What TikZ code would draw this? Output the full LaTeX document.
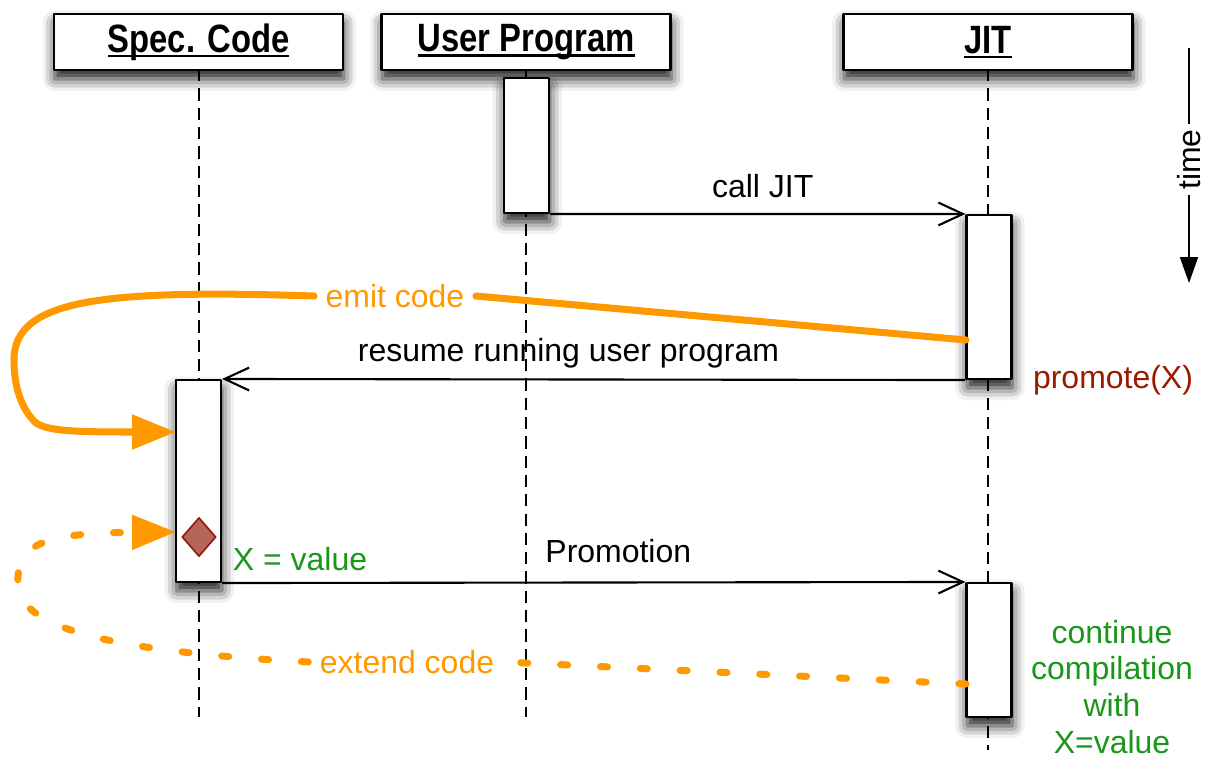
\documentclass[tikz,border=0pt]{standalone}
\usepackage{fontspec}
\setmainfont{Liberation Sans}
\newfontfamily\hdfont[FakeStretch=0.83]{Liberation Sans}
\usetikzlibrary{arrows.meta,shapes.geometric,shadows.blur}
\definecolor{emit}{HTML}{FF9900}
\definecolor{promo}{HTML}{9A1A00}
\definecolor{valgreen}{HTML}{1A961A}
\definecolor{diam}{HTML}{B5655A}
\definecolor{diamdk}{HTML}{8A1A0A}
\newlength\hdulw
\newcommand{\hdul}[1]{\settowidth{\hdulw}{#1}\rlap{\rule[-0.13em]{\hdulw}{0.065em}}#1}
\tikzset{seq/.style={x=0.02cm,y=-0.02cm,line join=round,line width=1.2pt,font=\fontsize{18.2}{21}\selectfont},
  soft/.style={blur shadow={shadow xshift=0.5pt,shadow yshift=-5pt,shadow blur radius=7pt,shadow opacity=90}},
  actor/.style={draw,fill=white,soft,minimum width=5.78cm,minimum height=1.12cm,inner sep=0pt,
    font=\hdfont\bfseries\fontsize{22.5}{24}\selectfont},
  act/.style={draw,fill=white,soft,minimum width=0.9cm,inner sep=0pt},
  life/.style={dash pattern=on 7pt off 4pt},
  msg/.style={-{Straight Barb[length=14pt,width=13pt]}},
  msglbl/.style={anchor=base,inner sep=0pt},
  emitlbl/.style={emit,inner sep=6pt},
  emitline/.style={emit,line width=4pt,line cap=round},
  extline/.style={emitline,dash pattern=on 4pt off 18.7pt},
  emittip/.style={-{Triangle[length=25pt,width=19pt]}}}

\begin{document}
\begin{tikzpicture}[seq]
  \useasboundingbox (0,0) rectangle (1213,758);
  % lifelines
  \coordinate (specend) at (199,717);\coordinate (userend) at (526,717);\coordinate (jitend) at (988,750);
  \draw[life] (199,69) -- (specend);\draw[life] (526,69) -- (userend);\draw[life] (988,69) -- (jitend);
  \node[actor] (spechd) at (198.5,42) {\hdul{Spec. Code}};
  \node[actor] (userhd) at (526,42) {\hdul{User Program}};
  \node[actor] (jithd) at (988,42) {\hdul{JIT}};
  % activations
  \node[act,minimum height=2.7cm] (useract) at (526.5,145.5) {};
  \node[act,minimum height=3.28cm] (jitactA) at (989,297) {};
  \node[act,minimum height=4.04cm] (specact) at (198.5,481) {};
  \node[act,minimum height=2.68cm] (jitactB) at (989,650) {};
  % messages
  \draw[msg] (useract.south east) -- node[msglbl,pos=0.512,yshift=9.5pt] {call JIT} (jitactA.north west);
  \draw[msg] (jitactA.south west) -- node[msglbl,pos=0.534,yshift=10.5pt] {resume running user program} (specact.north east);
  \draw[msg] (specact.south east) -- node[msglbl,pos=0.533,yshift=11.5pt] {Promotion} (jitactB.north west);
  % time axis
  \coordinate (timetop) at (1189,48);\coordinate (timebot) at (1189,283);
  \draw[-{Triangle[length=14.8pt,width=10.2pt]}] (timetop) -- node[pos=0.475,rotate=90,fill=white,inner sep=3pt] {time} (timebot);
  % emit code
  \coordinate (emitsrc) at (966,340);\coordinate (emitdst) at (176,432);
  \node[emitlbl] (emitcode) at (395,296) {emit code};
  \draw[emitline] (emitsrc) -- (emitcode.east);
  \draw[emitline,emittip] (emitcode.west) .. controls (100,289) and (14,300) .. (14,360)
    .. controls (14,395) and (26,412) .. (33,420) .. controls (42,431) and (70,432) .. (emitdst);
  % extend code
  \coordinate (extsrc) at (966,684);\coordinate (extdst) at (176,532);
  \node[emitlbl] (extcode) at (407,662) {extend code};
  \draw[extline] (extsrc) -- (extcode.east);
  \draw[extline,emittip] (extcode.west) .. controls (120,652) and (20,630) .. (18,585)
    .. controls (16,545) and (40,533) .. (extdst);
  % promotion point
  \node[diamond,draw=diamdk,fill=diam,line width=0.9pt,minimum width=0.68cm,minimum height=0.78cm,inner sep=0pt] (flag) at (199,537) {};
  \node[msglbl,valgreen] (xval) at (300,570) {X = value};
  \node[promo,inner sep=0pt] (promote) at (1113,380) {promote(X)};
  \node[valgreen,align=center,inner sep=0pt] (contcomp) at (1112,687) {continue\\compilation\\with\\X=value};
\end{tikzpicture}
\end{document}
